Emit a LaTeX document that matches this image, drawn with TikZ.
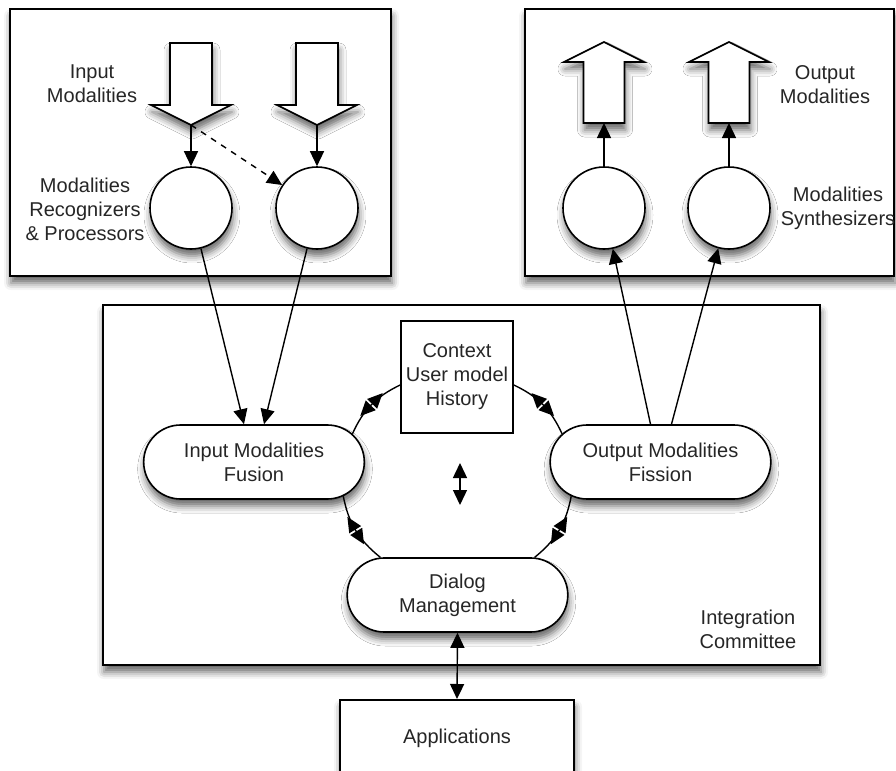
\documentclass[tikz,border=0pt]{standalone}
\usepackage{fontspec}
\setmainfont{Liberation Sans}
\usetikzlibrary{arrows.meta, shapes.misc, shadows.blur, decorations.markings}

\begin{document}
\begin{tikzpicture}[x=0.5pt, y=-0.5pt, >={Triangle[length=7.5pt, width=7pt, fill=black]},
    font=\fontsize{10}{12}\selectfont, text=black!85,
    softshadow/.style={blur shadow={shadow xshift=0.5pt, shadow yshift=-3.5pt, shadow blur radius=3.5pt, shadow opacity=60}},
    panel/.style={draw, line width=1pt, fill=white, softshadow},
    hollow/.style={draw, line width=0.8pt, fill=white, line join=miter, softshadow},
    unit/.style={circle, draw, line width=0.8pt, fill=white, minimum size=41pt, inner sep=0pt, softshadow},
    pill/.style={rounded rectangle, draw, line width=0.8pt, fill=white, minimum width=117pt, minimum height=37pt, align=center, softshadow},
    store/.style={rectangle, draw, line width=0.8pt, fill=white, minimum size=56pt, align=center, inner sep=0pt},
    lbl/.style={align=center, inner sep=0pt},
    link/.style={->, line width=0.7pt},
    twoheads/.style={line width=0.7pt, postaction={decorate}, decoration={markings, mark=at position 0.5 with {
        \fill[black] (0.5pt,-3.5pt) -- (8pt,0pt) -- (0.5pt,3.5pt) -- cycle;
        \fill[black] (-0.5pt,-3.5pt) -- (-8pt,0pt) -- (-0.5pt,3.5pt) -- cycle;}}},
    pics/downarrow/.style={code={
        \draw[hollow] (-21,0) -- (21,0) -- (21,62) -- (40,62) -- (0,82) -- (-40,62) -- (-21,62) -- cycle;
        \coordinate (-tip) at (0,82);}},
    pics/uparrow/.style={code={
        \draw[hollow] (0,0) -- (40,20) -- (20.5,20) -- (20.5,81) -- (-20.5,81) -- (-20.5,20) -- (-40,20) -- cycle;
        \coordinate (-tail) at (0,81);}}]
    \useasboundingbox (0,0) rectangle (896,771);

    % panels
    \draw[panel] (10,9) rectangle (391,276);
    \draw[panel] (525,9) rectangle (894,276);
    \draw[panel] (103,305) rectangle (820,665);

    % input side
    \pic (inA) at (191,43) {downarrow};
    \pic (inB) at (317,43) {downarrow};
    \node[unit] (rec1) at (191,208) {};
    \node[unit] (rec2) at (317,208) {};
    \node[lbl] (inlbl) at (92,84) {Input\\Modalities};
    \node[lbl] (reclbl) at (85,209) {Modalities\\Recognizers\\\& Processors};
    \draw[link] (inA-tip) -- (rec1.north);
    \draw[link] (inB-tip) -- (rec2.north);
    \draw[link, dashed] (inA-tip) -- (rec2);

    % output side
    \pic (outA) at (604,42) {uparrow};
    \pic (outB) at (729,42) {uparrow};
    \node[unit] (syn1) at (604,208) {};
    \node[unit] (syn2) at (729,208) {};
    \node[lbl] (outlbl) at (825,85) {Output\\Modalities};
    \node[lbl] (synlbl) at (838,208) {Modalities\\Synthesizers};
    \draw[link] (syn1) -- (outA-tail);
    \draw[link] (syn2) -- (outB-tail);

    % integration committee
    \node[store] (ctx) at (457,377) {Context\\User model\\History};
    \node[pill] (fusion) at (254,462) {Input Modalities\\Fusion};
    \node[pill] (fission) at (660.5,462) {Output Modalities\\Fission};
    \node[pill] (dialog) at (457.5,595) {Dialog\\Management};
    \node[lbl] (intlbl) at (748,629) {Integration\\Committee};
    \node[rectangle, draw, line width=0.8pt, fill=white, minimum width=117pt, minimum height=39pt, anchor=north, softshadow] (apps) at (457,699) {Applications};

    \draw[link] (rec1) -- ([xshift=-5pt]fusion.north);
    \draw[link] (rec2) -- ([xshift=5pt]fusion.north);
    \draw[link] ([xshift=-5pt]fission.north) -- (syn1);
    \draw[link] ([xshift=5.5pt]fission.north) -- (syn2);

    \draw[twoheads] (fusion.16) to[bend left=20] (ctx.188);
    \draw[twoheads] (ctx.-8) to[bend left=20] (fission.164);
    \draw[twoheads] (fusion.-21) to[bend right=20] (dialog.154);
    \draw[twoheads] (fission.201) to[bend left=20] (dialog.26);

    \coordinate (ringtop) at (460,463);
    \coordinate (ringbot) at (460,505);
    \draw[<->, line width=0.7pt] (ringtop) -- (ringbot);
    \draw[<->, line width=0.7pt] (dialog.south) -- (apps.north);
\end{tikzpicture}
\end{document}
